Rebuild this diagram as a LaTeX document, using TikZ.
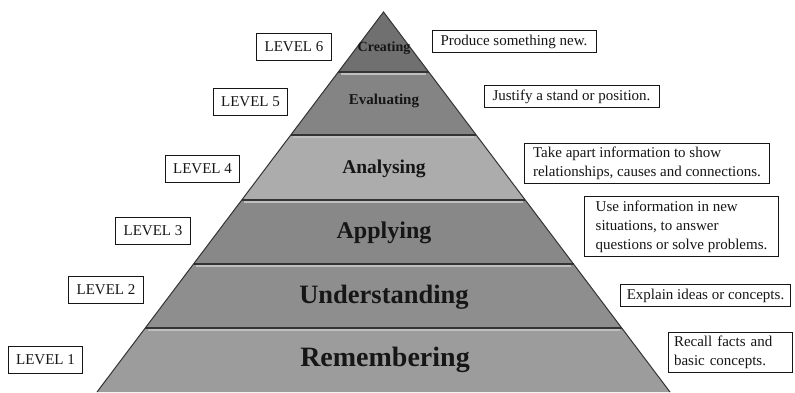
\documentclass[tikz,border=0pt]{standalone}
\usepackage{fontspec}
\setmainfont{Liberation Serif}
\usepackage{xcolor}
\usepackage{tikz}
\usetikzlibrary{positioning, calc}
\definecolor{ink}{RGB}{22,22,22}
\definecolor{crt}{RGB}{112,112,112}
\definecolor{evl}{RGB}{132,132,132}
\definecolor{anl}{RGB}{172,172,172}
\definecolor{apl}{RGB}{136,136,136}
\definecolor{und}{RGB}{142,142,142}
\definecolor{rem}{RGB}{156,156,156}
\newcommand{\bandfont}[1]{\fontsize{#1}{#1}\selectfont\bfseries}

\begin{document}
\begin{tikzpicture}[
    x=1pt, y=-1pt,
    lvl/.style={draw=ink, line width=0.9pt, fill=white, text=ink,
                font=\fontsize{15}{17}\selectfont, inner xsep=8pt, minimum height=27pt},
    note/.style={draw=ink, line width=0.9pt, fill=white, text=ink, align=left,
                 font=\fontsize{15}{19}\selectfont, inner xsep=8.5pt, inner ysep=4pt},
    tier/.style={text=ink, inner sep=1pt},
    seam/.style={draw=black!80, line width=1.4pt},
    glow/.style={draw=white!75!black, line width=1.5pt}
  ]
  \useasboundingbox (0,0) rectangle (795,392);

  % ---------------- pyramid ----------------
  \coordinate (apex) at (383.5,12);
  \fill[crt] (apex) -- (428.7,72) -- (338.3,72) -- cycle;
  \fill[evl] (338.3,72) -- (428.7,72) -- (476.2,135) -- (290.8,135) -- cycle;
  \fill[anl] (290.8,135) -- (476.2,135) -- (525.3,200) -- (241.7,200) -- cycle;
  \fill[apl] (241.7,200) -- (525.3,200) -- (573.5,264) -- (193.5,264) -- cycle;
  \fill[und] (193.5,264) -- (573.5,264) -- (621.8,328) -- (145.2,328) -- cycle;
  \fill[rem] (145.2,328) -- (621.8,328) -- (670,392) -- (97,392) -- cycle;
  \draw[glow] (340.6,74.2) -- (426.4,74.2);
  \draw[glow] (293.1,137.2) -- (473.9,137.2);
  \draw[glow] (244.0,202.2) -- (523.0,202.2);
  \draw[glow] (195.8,266.2) -- (571.2,266.2);
  \draw[glow] (147.5,330.2) -- (619.5,330.2);
  \draw[seam] (338.3,72) -- (428.7,72);
  \draw[seam] (290.8,135) -- (476.2,135);
  \draw[seam] (241.7,200) -- (525.3,200);
  \draw[seam] (193.5,264) -- (573.5,264);
  \draw[seam] (145.2,328) -- (621.8,328);
  \draw[black!80, line width=1pt] (97,392) -- (apex) -- (670,392);

  \node[tier, font=\bandfont{14}] (t6) at (384,48) {Creating};
  \node[tier, font=\bandfont{15}] (t5) at (384,101) {Evaluating};
  \node[tier, font=\bandfont{19.5}] (t4) at (384,169) {Analysing};
  \node[tier, font=\bandfont{24}] (t3) at (384,233) {Applying};
  \node[tier, font=\bandfont{26.5}] (t2) at (384,297) {Understanding};
  \node[tier, font=\bandfont{28}] (t1) at (385,360) {Remembering};

  % ---------------- levels ----------------
  \node[lvl] (l6) at (294,46.5) {LEVEL 6};
  \node[lvl] (l5) at (250.5,101.5) {LEVEL 5};
  \node[lvl] (l4) at (202.5,168.5) {LEVEL 4};
  \node[lvl] (l3) at (153,230.5) {LEVEL 3};
  \node[lvl] (l2) at (106,290) {LEVEL 2};
  \node[lvl] (l1) at (45.5,360) {LEVEL 1};

  % ---------------- notes ----------------
  \node[note] (n6) at (514,41.5) {Produce something new.};
  \node[note] (n5) at (571.5,96.5) {Justify a stand or position.};
  \node[note] (n4) at (647,163.5) {Take apart information to show\\relationships, causes and connections.};
  \node[note, inner xsep=11pt] (n3) at (681.5,226.5) {Use information in new\\situations, to answer\\questions or solve problems.};
  \node[note, inner xsep=6pt] (n2) at (705.5,295.5) {Explain ideas or concepts.};
  \node[note, inner xsep=6pt, text width=112pt] (n1) at (730,352.5) {Recall facts and\\basic concepts.};
\end{tikzpicture}
\end{document}
